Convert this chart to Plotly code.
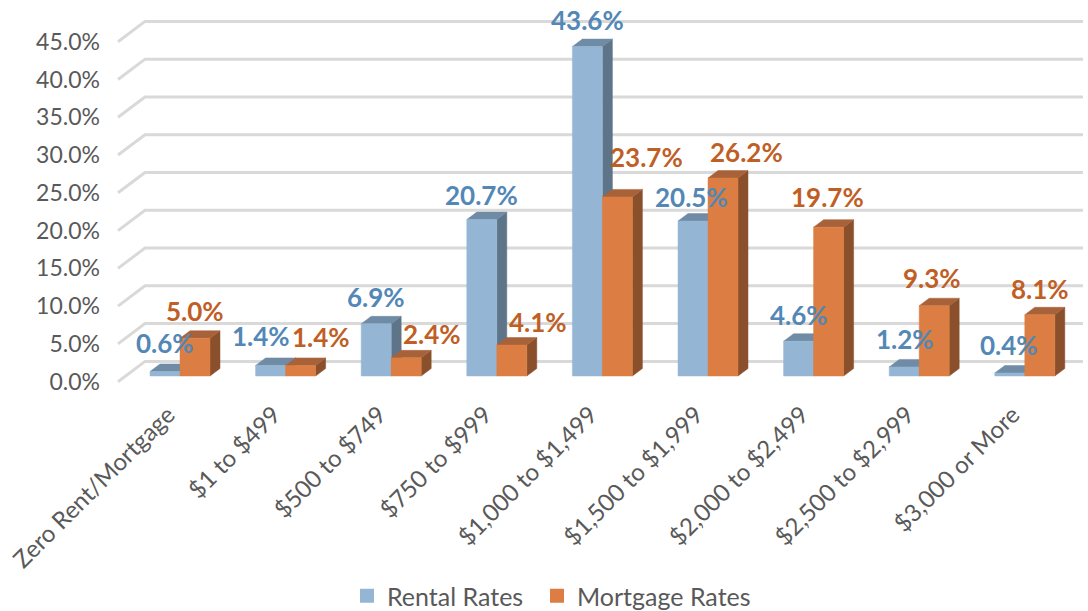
import plotly.graph_objects as go

categories = ["Zero Rent/Mortgage", "$1 to $499", "$500 to $749", "$750 to $999",
              "$1,000 to $1,499", "$1,500 to $1,999", "$2,000 to $2,499",
              "$2,500 to $2,999", "$3,000 or More"]
rental_rates = [0.6, 1.4, 6.9, 20.7, 43.6, 20.5, 4.6, 1.2, 0.4]
mortgage_rates = [5.0, 1.4, 2.4, 4.1, 23.7, 26.2, 19.7, 9.3, 8.1]
y_ticks = [0, 5, 10, 15, 20, 25, 30, 35, 40, 45]
y_tick_labels = ["0.0%", "5.0%", "10.0%", "15.0%", "20.0%", "25.0%", "30.0%", "35.0%", "40.0%", "45.0%"]

# Hand-placed data-label nudges in the reference (pixels)
rental_nudge = [(0, 28), (-10, 29), (0, 27), (0, 25), (0, 27), (-2, 24), (0, 26), (1, 28), (-1, 28)]
mortgage_nudge = [(0, 27), (20, 28), (26, 24), (26, 23), (29, 40), (23, 26), (-1, 30), (-2, 28), (0, 26)]

# Pixel geometry of the fake-3D projection
W, H = 1088, 611
PLOT_L, PLOT_B = 101, 395
X0_PX, X_STEP = 180.0, 105.6     # first category centre, category spacing
Y0_PX, Y_SCALE = 381.7, 7.556    # axis zero, px per percentage point
ux = lambda px: px / X_STEP
uy = lambda px: px / Y_SCALE
BAR_W = ux(30)
DEPTH_X, DEPTH_Y = ux(10), uy(7.5)
BAR_LIFT = uy(5.7)
WALL_X, WALL_Y = ux(27), uy(20.3)
GRID_L = (118 - X0_PX) / X_STEP
GRID_R = (1083 - X0_PX) / X_STEP
LABEL_SHIFT = ux(-12)

fig = go.Figure()

# Slanted side-wall + back-wall gridlines
gx, gy = [], []
for t in y_ticks:
    gx += [GRID_L, GRID_L + WALL_X, GRID_R, None]
    gy += [t, t + WALL_Y, t + WALL_Y, None]
fig.add_trace(go.Scatter(x=gx, y=gy, mode="lines", line=dict(color="#D9D9D9", width=3),
                         hoverinfo="skip", showlegend=False))


def add_faces(x_left, value, front, top, side):
    y0 = BAR_LIFT
    y1 = BAR_LIFT + value
    x1 = x_left + BAR_W
    faces = [
        ([x1, x1 + DEPTH_X, x1 + DEPTH_X, x1, x1], [y0, y0 + DEPTH_Y, y1 + DEPTH_Y, y1, y0], side),
        ([x_left, x_left + DEPTH_X, x1 + DEPTH_X, x1, x_left], [y1, y1 + DEPTH_Y, y1 + DEPTH_Y, y1, y1], top),
        ([x_left, x1, x1, x_left, x_left], [y0, y0, y1, y1, y0], front),
    ]
    for xs, ys, col in faces:
        fig.add_trace(go.Scatter(x=xs, y=ys, mode="lines", fill="toself", fillcolor=col,
                                 line=dict(color=col, width=0.5), hoverinfo="skip", showlegend=False))


BLUE = ("#94B6D4", "#6F8BA5", "#5E7488")
ORANGE = ("#DC7E43", "#A8623A", "#8A502B")
for i, (r, m) in enumerate(zip(rental_rates, mortgage_rates)):
    add_faces(i - BAR_W, r, *BLUE)
    add_faces(i, m, *ORANGE)

# Legend keys, one independently placed legend each
for name, col, leg in (("Rental Rates", BLUE[0], "legend"), ("Mortgage Rates", ORANGE[0], "legend2")):
    fig.add_trace(go.Scatter(x=[None], y=[None], mode="markers", name=name, legend=leg,
                             marker=dict(symbol="square", size=14, color=col)))

# Data labels
for i in range(len(categories)):
    for val, off, nudge, col in (
        (rental_rates[i], -BAR_W / 2, rental_nudge[i], "#5287B6"),
        (mortgage_rates[i], BAR_W / 2, mortgage_nudge[i], "#BF5F26"),
    ):
        fig.add_annotation(x=i + off, y=val + BAR_LIFT, text=f"{val:.1f}%", showarrow=False,
                           xshift=nudge[0], yshift=nudge[1],
                           font=dict(family="Lato", size=26, color=col, weight="bold"))

legend_common = dict(orientation="h", xanchor="left", yanchor="middle",
                     y=(PLOT_B - 596) / PLOT_B,
                     font=dict(family="Lato", size=25, color="#595959"))

fig.update_layout(
    width=W, height=H,
    margin=dict(l=PLOT_L, r=0, t=0, b=H - PLOT_B, autoexpand=False),
    paper_bgcolor="white", plot_bgcolor="white",
    font=dict(family="Lato", color="#595959", size=23),
    xaxis=dict(range=[(PLOT_L - X0_PX) / X_STEP, (W - X0_PX) / X_STEP],
               tickmode="array", tickvals=[i + LABEL_SHIFT for i in range(len(categories))],
               ticktext=categories,
               tickangle=-45, showgrid=False, zeroline=False, showline=False, ticks="",
               tickfont=dict(family="Lato", size=24, color="#595959")),
    yaxis=dict(range=[(Y0_PX - PLOT_B) / Y_SCALE, Y0_PX / Y_SCALE],
               tickmode="array", tickvals=y_ticks, ticktext=y_tick_labels,
               showgrid=False, zeroline=False, showline=False, ticks="",
               tickfont=dict(family="Lato", size=23, color="#595959")),
    legend=dict(x=(347 - PLOT_L) / (W - PLOT_L), **legend_common),
    legend2=dict(x=(537 - PLOT_L) / (W - PLOT_L), **legend_common),
    showlegend=True,
)

fig.write_html("out.html", config={"displayModeBar": False},
               post_script="document.body.style.margin='0';")
